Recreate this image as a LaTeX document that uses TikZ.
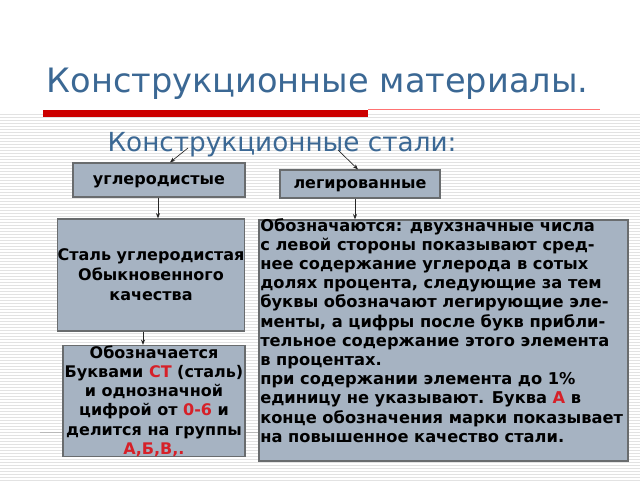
\documentclass[tikz,border=0pt]{standalone}
\usepackage{fontspec}
\setmainfont{DejaVu Sans}
\usetikzlibrary{arrows.meta}
\definecolor{titleblue}{RGB}{59,104,148}
\definecolor{boxfill}{RGB}{166,179,194}
\definecolor{boxline}{RGB}{105,108,110}
\definecolor{accent}{RGB}{214,32,40}
\definecolor{stripe}{RGB}{226,226,226}
\definecolor{barred}{RGB}{204,0,0}

\begin{document}
\begin{tikzpicture}[x=0.75pt, y=-0.75pt,
    every node/.style={inner sep=1pt, text centered},
    box/.style={draw=boxline, line width=0.9pt, fill=boxfill, align=center,
                font=\bfseries\fontsize{12}{14.4}\selectfont},
    link/.style={-{Stealth[length=4pt, width=3pt]}, line width=0.5pt, draw=black!85}]
            \useasboundingbox (0,0) rectangle (640,480);
            % Background stripes
            \fill[white] (0,0) rectangle (640,480);
            \foreach \y in {114,117,...,480}
                \draw[stripe, line width=0.75pt] (0,\y) -- (640,\y);
            \fill[barred] (43,110) rectangle (368,117);
            \draw[red!55, line width=0.7pt] (368,109.5) -- (600,109.5);
            \draw[gray!55, line width=0.6pt] (40,432) -- (600,432);

            % Headings
            \node[text=titleblue, font=\fontsize{25.2}{30}\selectfont] (title) at (317.5,84) {Конструкционные материалы.};
            \node[text=titleblue, font=\fontsize{19.7}{22}\selectfont] (sub) at (282,145) {Конструкционные стали:};
            \coordinate (sub-l) at (188,148);
            \coordinate (sub-r) at (338,150);

            % Boxes
            \node[box, text depth=0pt, minimum width=129pt, minimum height=25.5pt] (ugl) at (159,180) {углеродистые};
            \node[box, text depth=0pt, minimum width=120pt, minimum height=21pt] (leg) at (360,184) {легированные};
            \node[box, minimum width=139.5pt, minimum height=84pt, inner sep=0pt,
                  font=\bfseries\fontsize{12}{15}\selectfont] (stal) at (151,275)
                {Сталь углеродистая\\Обыкновенного\\качества};
            \node[box, minimum width=136.5pt, minimum height=83.25pt, inner sep=0pt] (oboz) at (154,401)
                {Обозначается\\Буквами \textcolor{accent}{СТ} (сталь)\\и однозначной\\цифрой от \textcolor{accent}{0-6} и\\делится на группы\\\textcolor{accent}{А,Б,В,.}};
            \node[box, minimum width=276.75pt, minimum height=180.75pt] (marka) at (443.5,340.5) {};
            \node[anchor=north west, align=left, inner sep=0pt,
                  font=\bfseries\fontsize{12.2}{14.4}\selectfont] (markatext) at (260,218)
                {Обозначаются: двухзначные числа\\
                 с левой стороны показывают сред-\\
                 нее содержание углерода в сотых\\
                 долях процента, следующие за тем\\
                 буквы обозначают легирующие эле-\\
                 менты, а цифры после букв прибли-\\
                 тельное содержание этого элемента\\
                 в процентах.\\
                 при содержании элемента до 1\%\\
                 единицу не указывают. Буква \textcolor{accent}{А} в\\
                 конце обозначения марки показывает\\
                 на повышенное качество стали.};

            % Arrows
            \draw[link] (sub-l) -- (ugl.north -| 170,0);
            \draw[link] (sub-r) -- (leg.north -| 358,0);
            \draw[link] (ugl.south -| 158,0) -- (stal.north -| 158,0);
            \draw[link] (leg.south -| 355,0) -- (marka.north -| 355,0);
            \draw[link] (stal.south -| 143,0) -- (oboz.north -| 143,0);
        \end{tikzpicture}
\end{document}
